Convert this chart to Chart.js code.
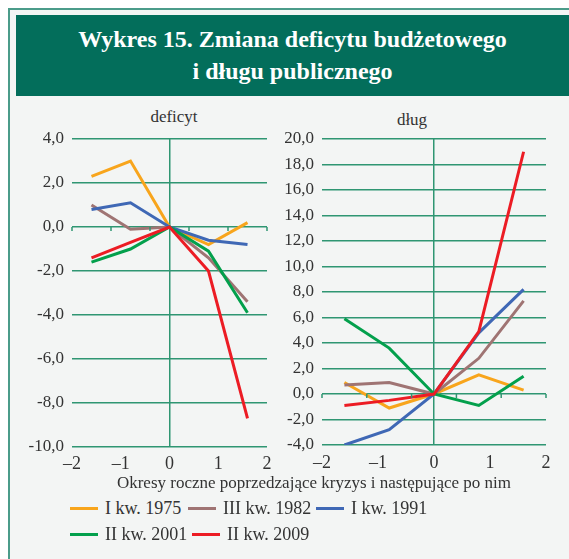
<!DOCTYPE html>
<html>
<head>
<meta charset="utf-8">
<script src="https://cdn.jsdelivr.net/npm/chart.js@4/dist/chart.umd.min.js"></script>
<style>
  body { margin: 0; background: #fff; width: 569px; height: 559px; overflow: hidden; position: relative;
         font-family: "Liberation Serif", "DejaVu Serif", serif; color: #333; }
  #frame { position: absolute; left: 8px; top: 8px; width: 561px; height: 551px; background: #f3f5f4;
           border-top: 2px solid #4b9c8a; border-left: 2px solid #4b9c8a; box-sizing: border-box; }
  #band { position: absolute; left: 16px; top: 15px; width: 553px; height: 81px; background: #036e5b;
          color: #fff; font-weight: bold; font-size: 24px; text-align: center; line-height: 32px; padding-top: 8px; box-sizing: border-box; }
  .panel { position: absolute; top: 105px; height: 375px; }
  .ptitle { position: absolute; font-size: 17px; transform: translateX(-50%); }
  #xlabel { position: absolute; left: 314px; top: 473px; transform: translateX(-50%); font-size: 17px; white-space: nowrap; }
  .leg { position: absolute; font-size: 18px; white-space: nowrap; }
  .leg span { display: inline-block; width: 28px; height: 3px; vertical-align: middle; margin-right: 7px; position: relative; top: -1px; }
</style>
</head>
<body>
<div id="frame"></div>
<div id="band">Wykres 15. Zmiana deficytu budżetowego<br>i długu publicznego</div>
<div class="ptitle" style="left:174px; top:107px;">deficyt</div>
<div class="ptitle" style="left:412px; top:110px;">dług</div>
<canvas id="left" class="panel" style="left:20px; width:270px;"></canvas>
<canvas id="right" class="panel" style="left:280px; width:289px;"></canvas>
<div id="xlabel">Okresy roczne poprzedzające kryzys i następujące po nim</div>
<div class="leg" style="left:70px; top:498px;"><span style="background:#f8a51c"></span>I kw. 1975</div>
<div class="leg" style="left:188px; top:498px;"><span style="background:#9f7473"></span>III kw. 1982</div>
<div class="leg" style="left:316px; top:498px;"><span style="background:#3f68b5"></span>I kw. 1991</div>
<div class="leg" style="left:70px; top:524px;"><span style="background:#03a04c"></span>II kw. 2001</div>
<div class="leg" style="left:192px; top:524px;"><span style="background:#ec1c24"></span>II kw. 2009</div>
<script>
// years relative to the crisis quarter
const periods = [-1.6, -0.8, 0, 0.8, 1.6];
const seriesNames = ['I kw. 1975', 'III kw. 1982', 'I kw. 1991', 'II kw. 2001', 'II kw. 2009'];
const seriesColors = ['#f8a51c', '#9f7473', '#3f68b5', '#03a04c', '#ec1c24'];

// deficyt
const def1975 = [2.3, 3.0, 0, -0.8, 0.2];
const def1982 = [1.0, -0.1, 0, -1.4, -3.4];
const def1991 = [0.8, 1.1, 0, -0.6, -0.8];
const def2001 = [-1.6, -1.0, 0, -1.1, -3.9];
const def2009 = [-1.4, -0.7, 0, -2.0, -8.7];

// dług
const debt1975 = [0.9, -1.1, 0, 1.5, 0.3];
const debt1982 = [0.7, 0.9, 0, 2.8, 7.3];
const debt1991 = [-4.0, -2.8, 0, 4.8, 8.2];
const debt2001 = [5.9, 3.6, 0, -0.9, 1.4];
const debt2009 = [-0.9, -0.5, 0, 4.9, 19.0];

const xTicks = [-2, -1, 0, 1, 2];
const zeroMarks = [-2, -1.2, -0.4, 0.4, 1.2, 2];

const gridGreen = '#2f9672';
const textFont = { family: '"Liberation Serif", "DejaVu Serif", serif', size: 17 };

// small tick marks along the zero line
const zeroTicks = {
  id: 'zeroTicks',
  afterDatasetsDraw(chart) {
    const { ctx, scales: { x, y } } = chart;
    const y0 = y.getPixelForValue(0);
    ctx.save();
    ctx.strokeStyle = gridGreen;
    ctx.lineWidth = 1.5;
    zeroMarks.forEach(v => {
      const px = x.getPixelForValue(v);
      ctx.beginPath();
      ctx.moveTo(px, y0);
      ctx.lineTo(px, y0 + 4);
      ctx.stroke();
    });
    ctx.restore();
  }
};

function makeChart(id, lists, yMin, yMax, yWidth, xHeight, xPad, rightPad) {
  const ctx = document.getElementById(id).getContext('2d');
  return new Chart(ctx, {
    type: 'scatter',
    data: {
      datasets: lists.map((vals, i) => ({
        label: seriesNames[i],
        data: periods.map((p, j) => ({ x: p, y: vals[j] })),
        showLine: true,
        borderColor: seriesColors[i],
        backgroundColor: seriesColors[i],
        borderWidth: 3,
        pointRadius: 0,
        tension: 0,
        order: lists.length - i
      }))
    },
    options: {
      responsive: false,
      animation: false,
      events: [],
      layout: { padding: { top: 34, right: rightPad, bottom: 0, left: 0 } },
      plugins: { legend: { display: false }, tooltip: { enabled: false } },
      scales: {
        x: {
          type: 'linear',
          min: -2, max: 2,
          afterBuildTicks: s => { s.ticks = xTicks.map(v => ({ value: v })); },
          afterFit: s => { s.height = xHeight; },
          border: { display: false },
          grid: {
            drawTicks: false,
            lineWidth: 1.5,
            color: c => (c.tick && c.tick.value === 0) ? gridGreen : 'rgba(0,0,0,0)'
          },
          ticks: {
            padding: xPad,
            color: '#333',
            font: { family: textFont.family, size: 18 },
            callback: v => (v < 0 ? '\u2013' + Math.abs(v) : String(v))
          }
        },
        y: {
          min: yMin, max: yMax,
          afterFit: s => { s.width = yWidth; },
          border: { display: false },
          grid: { drawTicks: false, color: gridGreen, lineWidth: 1.5 },
          ticks: {
            stepSize: 2,
            padding: 8,
            color: '#333',
            font: textFont,
            callback: v => v.toFixed(1).replace('.', ',')
          }
        }
      }
    },
    plugins: [zeroTicks]
  });
}

const leftCanvas = document.getElementById('left');
leftCanvas.width = 270; leftCanvas.height = 375;
const rightCanvas = document.getElementById('right');
rightCanvas.width = 289; rightCanvas.height = 375;

makeChart('left', [def1975, def1982, def1991, def2001, def2009], -10, 4, 52, 33, 6, 23);
makeChart('right', [debt1975, debt1982, debt1991, debt2001, debt2009], -4, 20, 42, 35, 7, 23);
</script>
</body>
</html>
